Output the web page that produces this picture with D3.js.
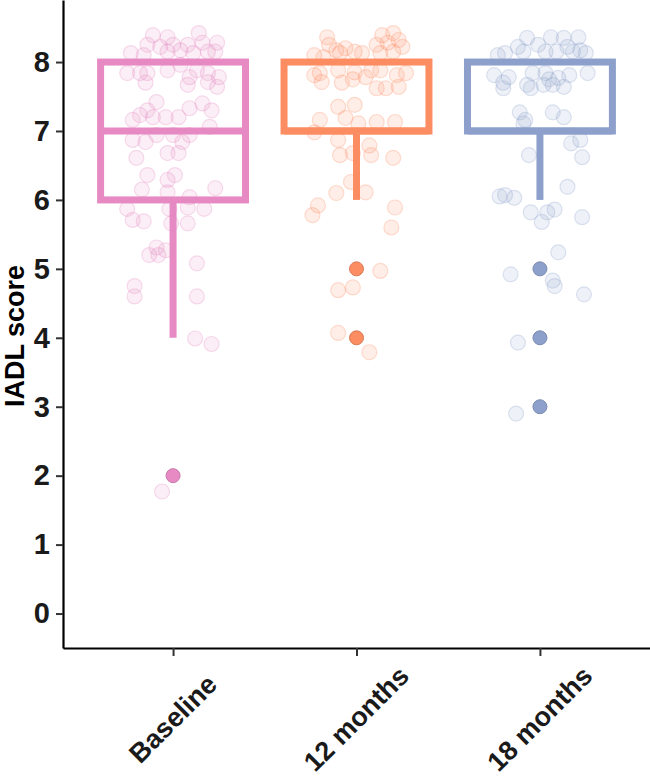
<!DOCTYPE html>
<html>
<head>
<meta charset="utf-8">
<script src="https://cdn.jsdelivr.net/npm/d3@7"></script>
<style>
  html, body { margin: 0; padding: 0; background: #ffffff; }
  svg { display: block; font-family: "Liberation Sans", Arial, sans-serif; }
</style>
</head>
<body>
<div id="chart"></div>
<script>
// groups on the x axis
const categories = ["Baseline", "12 months", "18 months"];
const groupColors = ["#e78ac3", "#fc8d62", "#8da0cb"];

// box statistics per group
const q1Values = [6, 7, 7];
const medianValues = [7, 7, 7];
const q3Values = [8, 8, 8];
const whiskerLow = [4, 6, 6];
const whiskerHigh = [8, 8, 8];

// outliers per group
const outlierValues = [[2], [5, 4], [5, 4, 3]];

const yTicks = [0, 1, 2, 3, 4, 5, 6, 7, 8];

// jittered raw observations: [horizontal jitter (share of band step), jittered score]
const baselinePoints = [
    [-0.11, 8.39], [-0.03, 8.36], [-0.14, 8.25], [-0.07, 8.22], [0, 8.25], [0.04, 8.17],
    [0.08, 8.25], [0.14, 8.42], [0.16, 8.28], [0.24, 8.28], [0.23, 8.15], [-0.23, 8.13],
    [-0.16, 8.1], [-0.03, 8.15], [0.11, 8.13], [0.19, 8.15],
    [-0.25, 7.84], [-0.18, 7.84], [-0.14, 7.84], [-0.15, 7.7], [-0.03, 7.88], [0.04, 7.96],
    [0.09, 7.78], [0.08, 7.67], [0.13, 7.88], [0.19, 7.84], [0.19, 7.71], [0.24, 7.64], [0.25, 7.78],
    [-0.09, 7.42], [-0.14, 7.3], [-0.18, 7.23], [-0.11, 7.2], [-0.04, 7.2], [0.03, 7.2],
    [0.09, 7.33], [0.16, 7.4], [0.21, 7.3], [-0.22, 7.16],
    [-0.22, 6.87], [-0.15, 6.84], [-0.09, 6.94], [0, 6.94], [0.05, 6.84], [0.09, 6.94], [0.2, 7.06],
    [-0.2, 6.61], [-0.03, 6.68], [0.03, 6.68], [-0.14, 6.36], [-0.03, 6.29], [0.01, 6.36],
    [-0.17, 6.15], [-0.03, 6.11], [0.09, 6.04], [0.23, 6.17],
    [-0.25, 5.87], [-0.22, 5.71], [-0.16, 5.69], [-0.02, 5.87], [-0.01, 5.66], [0.08, 5.66],
    [0.08, 5.89], [0.17, 5.87], [-0.09, 5.31], [-0.13, 5.2], [-0.08, 5.2], [-0.04, 5.27],
    [0.13, 5.08], [-0.21, 4.75], [-0.21, 4.6], [0.13, 4.6], [0.12, 3.99], [0.21, 3.91], [-0.06, 1.77]
];

const month12Points = [
    [-0.16, 8.36], [-0.15, 8.25], [-0.11, 8.17], [-0.06, 8.2], [-0.23, 8.1], [-0.18, 8.07],
    [-0.09, 8.13], [-0.01, 8.15], [0.03, 8.13], [0.14, 8.39], [0.2, 8.42], [0.23, 8.32],
    [0.11, 8.25], [0.17, 8.28], [0.25, 8.22], [0.13, 8.13], [0.2, 8.15],
    [-0.23, 7.81], [-0.19, 7.71], [-0.2, 7.84], [-0.1, 7.88], [-0.08, 7.7], [-0.02, 7.75],
    [-0.01, 7.85], [0.05, 7.78], [0.08, 7.88], [0.13, 7.88], [0.11, 7.62], [0.16, 7.62],
    [0.22, 7.81], [0.23, 7.64], [0.27, 7.84],
    [-0.1, 7.35], [-0.01, 7.38], [-0.06, 7.19], [-0.2, 7.16], [0.11, 7.13], [0.21, 7.13], [0.01, 7.11],
    [-0.23, 6.98], [-0.1, 6.87], [-0.09, 6.65], [-0.02, 6.68], [0.07, 6.79], [0.08, 6.65], [0.2, 6.61],
    [-0.03, 6.26], [-0.11, 6.1], [0.05, 6.11], [-0.21, 5.92], [-0.24, 5.78], [0.21, 5.89], [0.19, 5.6],
    [0.13, 4.97], [-0.1, 4.69], [-0.02, 4.73], [-0.1, 4.07], [0.07, 3.79]
];

const month18Points = [
    [-0.07, 8.35], [-0.01, 8.25], [0.06, 8.36], [0.13, 8.35], [0.21, 8.36], [-0.12, 8.22],
    [-0.09, 8.15], [-0.19, 8.13], [-0.23, 8.1], [0.03, 8.15], [0.09, 8.15], [0.15, 8.22],
    [0.18, 8.15], [0.22, 8.17], [0.25, 8.13],
    [-0.25, 7.81], [-0.2, 7.7], [-0.2, 7.62], [-0.17, 7.78], [-0.07, 7.67], [-0.05, 7.62],
    [-0.04, 7.84], [0.03, 7.84], [0.05, 7.75], [0.07, 7.67], [0.1, 7.77], [0.13, 7.64],
    [0.16, 7.81], [0.26, 7.84], [0.02, 7.67],
    [-0.11, 7.27], [-0.08, 7.16], [0.07, 7.27], [0.13, 7.2], [-0.09, 7.11],
    [-0.06, 6.65], [0.17, 6.82], [0.22, 6.87], [0.23, 6.62], [0.15, 6.19],
    [-0.22, 6.05], [-0.19, 6.07], [-0.14, 6.03], [-0.05, 5.82], [0.01, 5.68], [0.04, 5.82],
    [0.08, 5.86], [0.23, 5.75], [0.1, 5.24], [-0.16, 4.92], [0.07, 4.83], [0.08, 4.75],
    [0.24, 4.63], [-0.12, 3.93], [-0.13, 2.9]
];

const jitterPoints = [baselinePoints, month12Points, month18Points];

const STYLE = {
    axis: "#000000",
    tick: "#333333",
    tickLabel: "#1a1a1a",
    boxStroke: 7,
    boxWidth: 0.79,
    pointRadius: 7.5,
    outlierRadius: 7,
};

const width = 650;
const height = 783;
const plot = { left: 63, right: 650, top: 0, bottom: 648 };

const svg = d3.select("#chart")
    .append("svg")
    .attr("width", width)
    .attr("height", height)
    .attr("viewBox", `0 0 ${width} ${height}`);

const x = d3.scalePoint()
    .domain(categories)
    .range([plot.left, plot.right])
    .padding(0.6);

const y = d3.scaleLinear()
    .domain([-0.5, 8.9])
    .range([plot.bottom, plot.top]);

const step = x.step();
const boxW = step * STYLE.boxWidth;

const groups = categories.map((cat, i) => ({
    cat,
    color: groupColors[i],
    q1: q1Values[i],
    median: medianValues[i],
    q3: q3Values[i],
    low: whiskerLow[i],
    high: whiskerHigh[i],
    outliers: outlierValues[i],
    points: jitterPoints[i],
}));

const boxLayer = svg.append("g").attr("class", "boxes");

// boxes
const g = boxLayer.selectAll("g.group")
    .data(groups)
    .enter()
    .append("g")
    .attr("class", "group");

g.append("line")
    .attr("x1", (d) => x(d.cat))
    .attr("x2", (d) => x(d.cat))
    .attr("y1", (d) => y(d.q1))
    .attr("y2", (d) => y(d.low))
    .attr("stroke", (d) => d.color)
    .attr("stroke-width", STYLE.boxStroke);

g.filter((d) => d.high > d.q3)
    .append("line")
    .attr("x1", (d) => x(d.cat))
    .attr("x2", (d) => x(d.cat))
    .attr("y1", (d) => y(d.q3))
    .attr("y2", (d) => y(d.high))
    .attr("stroke", (d) => d.color)
    .attr("stroke-width", STYLE.boxStroke);

g.append("rect")
    .attr("x", (d) => x(d.cat) - boxW / 2)
    .attr("y", (d) => y(d.q3))
    .attr("width", boxW)
    .attr("height", (d) => y(d.q1) - y(d.q3))
    .attr("fill", "none")
    .attr("stroke", (d) => d.color)
    .attr("stroke-width", STYLE.boxStroke);

g.append("line")
    .attr("x1", (d) => x(d.cat) - boxW / 2)
    .attr("x2", (d) => x(d.cat) + boxW / 2)
    .attr("y1", (d) => y(d.median))
    .attr("y2", (d) => y(d.median))
    .attr("stroke", (d) => d.color)
    .attr("stroke-width", STYLE.boxStroke);

// outliers
g.selectAll("circle.outlier")
    .data((d) => d.outliers.map((v) => ({ cat: d.cat, color: d.color, v })))
    .enter()
    .append("circle")
    .attr("class", "outlier")
    .attr("cx", (d) => x(d.cat))
    .attr("cy", (d) => y(d.v))
    .attr("r", STYLE.outlierRadius)
    .attr("fill", (d) => d.color)
    .attr("stroke", (d) => d3.color(d.color).darker(0.4))
    .attr("stroke-width", 1);

// jittered points on top
const pointLayer = svg.append("g").attr("class", "points");
pointLayer.selectAll("g")
    .data(groups)
    .enter()
    .append("g")
    .selectAll("circle")
    .data((d) => d.points.map((p) => ({ cat: d.cat, color: d.color, dx: p[0], v: p[1] })))
    .enter()
    .append("circle")
    .attr("cx", (d) => x(d.cat) + d.dx * step)
    .attr("cy", (d) => y(d.v))
    .attr("r", STYLE.pointRadius)
    .attr("fill", (d) => d.color)
    .attr("fill-opacity", 0.15)
    .attr("stroke", (d) => d.color)
    .attr("stroke-opacity", 0.28)
    .attr("stroke-width", 1.2);

// y axis
const yAxis = d3.axisLeft(y).tickValues(yTicks).tickSize(7).tickPadding(6).tickSizeOuter(0);
svg.append("g")
    .attr("transform", `translate(${plot.left},0)`)
    .call(yAxis)
    .call((axis) => {
        axis.select(".domain").attr("stroke", STYLE.axis).attr("stroke-width", 2.2);
        axis.selectAll(".tick line").attr("stroke", STYLE.tick).attr("stroke-width", 2);
        axis.selectAll(".tick text")
            .attr("fill", STYLE.tickLabel)
            .style("font-size", "29px")
            .style("font-weight", "700")
            .style("font-family", "'Liberation Sans', Arial, sans-serif");
    });

// x axis
const xAxis = d3.axisBottom(x).tickSize(8).tickSizeOuter(0).tickFormat("");
svg.append("g")
    .attr("transform", `translate(0,${plot.bottom})`)
    .call(xAxis)
    .call((axis) => {
        axis.select(".domain").attr("stroke", STYLE.axis).attr("stroke-width", 2.2);
        axis.selectAll(".tick line").attr("stroke", STYLE.tick).attr("stroke-width", 2);
    });

svg.append("g")
    .selectAll("text")
    .data(categories)
    .enter()
    .append("text")
    .attr("transform", (d) => `translate(${x(d)},${plot.bottom + 71}) rotate(-45)`)
    .attr("text-anchor", "middle")
    .attr("dominant-baseline", "central")
    .attr("fill", STYLE.tickLabel)
    .style("font-size", "27px")
    .style("font-weight", "700")
    .text((d) => d);

// y title
svg.append("text")
    .attr("transform", `translate(15,336) rotate(-90)`)
    .attr("text-anchor", "middle")
    .attr("dominant-baseline", "central")
    .attr("fill", "#000000")
    .style("font-size", "27px")
    .style("font-weight", "700")
    .text("IADL score");
</script>
</body>
</html>
